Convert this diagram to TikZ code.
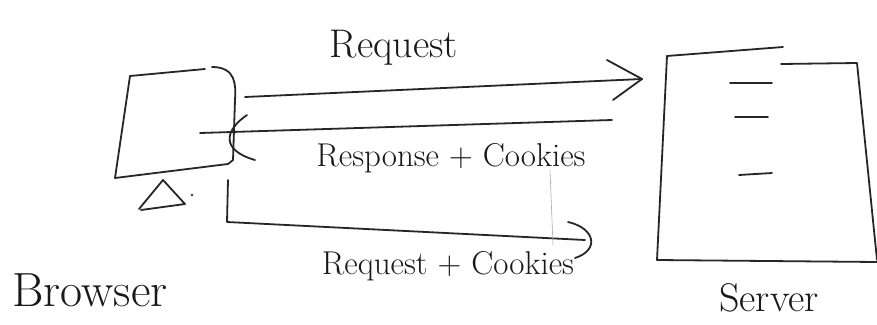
\documentclass[tikz,border=0pt]{standalone}
\begin{document}
\begin{tikzpicture}[x=1pt,y=-1pt,
  ink/.style={draw=black!85, line width=1.8pt, line cap=round, line join=round},
  faint/.style={draw=gray!60!blue!50, line width=0.6pt},
  lbl/.style={inner sep=0pt, text=black!90}]
\useasboundingbox (0,0) rectangle (877,324);
\fill[white] (0,0) rectangle (877,324);

% coordinates for the connectors
\coordinate (r1s) at (245,97);
\coordinate (r1e) at (642,79);
\coordinate (r2s) at (200,133);
\coordinate (r2e) at (612,120);
\coordinate (r3a) at (228,180);
\coordinate (r3b) at (227,222);
\coordinate (r3e) at (585,240);

% browser monitor
\draw[ink] (130,76) -- (205,69);
\draw[ink] (212,67) .. controls (236,67) and (236,85) .. (235,100) -- (233,160) -- (228,164) -- (115,178) -- (130,76);
% stand
\draw[ink] (139,209) -- (163,180) -- (185,204) -- (141,210);
\fill[black!80] (192,195) circle (1.3);

% server box
\draw[ink] (667,56) -- (783,47);
\draw[ink] (781,64) -- (857,63) -- (877,260);
\draw[ink] (667,56) -- (657,260) -- (877,262);
\draw[ink] (730,83) -- (772,83);
\draw[ink] (735,117) -- (768,117);
\draw[ink] (739,175) -- (772,173);

% connectors
\draw[ink] (r1s) -- (r1e);
\draw[ink] (607,60) -- (r1e) -- (613,100);
\draw[ink] (r2s) -- (r2e);
\draw[ink] (247,115) .. controls (225,130) and (220,150) .. (255,160);
\draw[ink] (r3a) -- (r3b) -- (r3e);
\draw[ink] (568,222) .. controls (595,228) and (600,250) .. (575,258);
\draw[faint] (550,170) -- (553,245);

% labels
\node[lbl, font=\fontsize{40}{44}\selectfont] (lreq) at (394,48) {Request};
\node[lbl, font=\fontsize{33}{37}\selectfont] (lresp) at (451,158) {Response + Cookies};
\node[lbl, font=\fontsize{33}{37}\selectfont] (lreqc) at (448,266) {Request + Cookies};
\node[lbl, font=\fontsize{48}{52}\selectfont] (lbrowser) at (90,290) {Browser};
\node[lbl, font=\fontsize{40}{44}\selectfont] (lserver) at (769,298) {Server};
\end{tikzpicture}
\end{document}
